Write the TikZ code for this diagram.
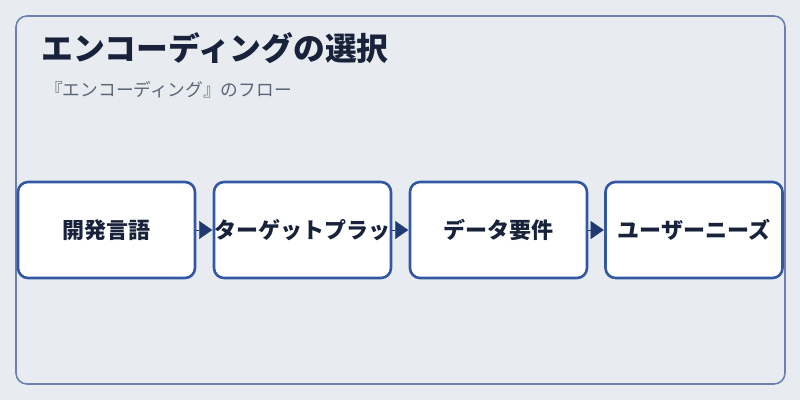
\documentclass[tikz,border=0pt]{standalone}
\usepackage{fontspec}
\setmainfont{Noto Sans CJK JP}
\usetikzlibrary{arrows.meta}
\definecolor{bg}{HTML}{E8ECF1}
\definecolor{frame}{HTML}{6B82AE}
\definecolor{boxline}{HTML}{3358A3}
\definecolor{ink}{HTML}{18223A}
\definecolor{sub}{HTML}{5A6577}
\definecolor{arr}{HTML}{1F3A70}
\tikzset{
  stepbox/.style={draw=boxline, line width=2.6pt, fill=white, rounded corners=10pt,
    minimum width=177pt, minimum height=96pt, inner sep=0pt, text=ink,
    font=\fontsize{22}{26}\selectfont\bfseries},
  flow/.style={draw=arr, line width=0.1pt, -{Triangle[length=13pt,width=18pt]}, shorten >=0.5pt, shorten <=0pt}
}
\newcommand{\lowered}[1]{\raisebox{-2.5pt}{#1}}
\begin{document}
\begin{tikzpicture}[x=1pt,y=-1pt]
\useasboundingbox (0,0) rectangle (800,400);
\fill[bg] (0,0) rectangle (800,400);
\draw[frame, line width=1.6pt, rounded corners=11pt] (16,16) rectangle (785,384);
\node[anchor=base west, text=ink, inner sep=0pt, font=\fontsize{31.8}{36}\selectfont\bfseries] (title) at (41,60) {エンコーディングの選択};
\node[anchor=base west, text=sub, inner sep=0pt, font=\fontsize{17.7}{20}\selectfont] (subtitle) at (45,96) {『エンコーディング』のフロー};
\node[stepbox] (b1) at (106.5,230) {\lowered{開発言語}};
\node[stepbox] (b2) at (302.5,230) {\lowered{ターゲットプラッ}};
\node[stepbox] (b3) at (498.5,230) {\lowered{データ要件}};
\node[stepbox] (b4) at (694,230) {\lowered{ユーザーニーズ}};
\draw[flow] (b1.east) -- (b2.west);
\draw[flow] (b2.east) -- (b3.west);
\draw[flow] (b3.east) -- (b4.west);
\end{tikzpicture}
\end{document}
